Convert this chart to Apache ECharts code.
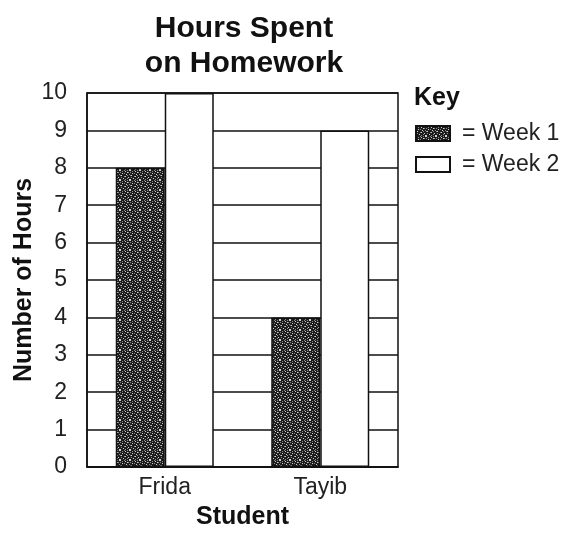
<!DOCTYPE html>
<html><head><meta charset="utf-8">
<script src="https://cdn.jsdelivr.net/npm/echarts@6/dist/echarts.min.js"></script>
<style>html,body{margin:0;padding:0;background:#fff}#c{width:587px;height:538px}</style>
</head><body><div id="c"></div>
<script>
const students = ['Frida', 'Tayib'];
const week1 = [8, 4];
const week2 = [10, 9];
const seriesNames = ['Week 1', 'Week 2'];
const yTicks = [0,1,2,3,4,5,6,7,8,9,10];

// fixed speckle texture for the dark bars (0 = dark, 1 = mid grey, 2 = light)
const speckleRows = [
  '2000100102',
  '0010020000',
  '1000000210',
  '0020100000',
  '0000002001',
  '1200000100',
  '0000120000',
  '0100000020',
  '0002000100',
  '2000010002'
];
const speckleShades = ['#1c1c1c', '#8a8a8a', '#d0d0d0'];
const pc = document.createElement('canvas');
pc.width = 10; pc.height = 10;
const px = pc.getContext('2d');
speckleRows.forEach((row, y) => {
  for (let x = 0; x < row.length; x++) {
    px.fillStyle = speckleShades[+row[x]];
    px.fillRect(x, y, 1, 1);
  }
});

const chart = echarts.init(document.getElementById('c'));
const font = 'Liberation Sans, Arial, sans-serif';
chart.setOption({
  backgroundColor: '#fff',
  animation: false,
  title: {
    text: 'Hours Spent\non Homework',
    left: 239, top: 6, textAlign: 'center',
    textStyle: {fontFamily: font, fontSize: 30, fontWeight: 'bold', color: '#111', lineHeight: 35}
  },
  graphic: [{
    type: 'text', left: 414, top: 86,
    style: {text: 'Key', font: 'bold 25px Liberation Sans, Arial, sans-serif', fill: '#111'}
  }],
  legend: {
    orient: 'vertical', left: 415, top: 122, itemGap: 8, padding: 0,
    itemWidth: 34, itemHeight: 15, icon: 'rect',
    formatter: n => '= ' + n,
    textStyle: {fontFamily: font, fontSize: 23, lineHeight: 23, color: '#222', padding: [0, 0, 0, 7]},
    data: seriesNames
  },
  grid: {left: 87, right: 189, top: 93, bottom: 71, show: true, borderColor: '#111', borderWidth: 1.5},
  xAxis: {
    type: 'category', data: students,
    name: 'Student', nameLocation: 'middle', nameGap: 38, nameMoveOverlap: false,
    nameTextStyle: {fontFamily: font, fontSize: 25, fontWeight: 'bold', color: '#111'},
    axisLine: {lineStyle: {color: '#111', width: 1.5}},
    axisTick: {show: false},
    axisLabel: {fontFamily: font, fontSize: 23, color: '#222', margin: 20 - 11}
  },
  yAxis: {
    type: 'value', min: 0, max: 10, interval: 1,
    name: 'Number of Hours', nameLocation: 'middle', nameGap: 50, nameMoveOverlap: false,
    nameTextStyle: {fontFamily: font, fontSize: 25, fontWeight: 'bold', color: '#111'},
    axisLine: {show: true, lineStyle: {color: '#111', width: 1.5}},
    axisTick: {show: false},
    axisLabel: {fontFamily: font, fontSize: 23, color: '#222', margin: 20,
      formatter: v => yTicks.includes(v) ? String(v) : ''},
    splitLine: {show: true, lineStyle: {color: '#111', width: 1.5}}
  },
  series: [
    {name: seriesNames[0], type: 'bar', data: week1, barWidth: 49, barGap: '0%',
     itemStyle: {color: {image: pc, repeat: 'repeat'}, borderColor: '#111', borderWidth: 1.5}},
    {name: seriesNames[1], type: 'bar', data: week2, barWidth: 49,
     itemStyle: {color: '#fff', borderColor: '#111', borderWidth: 1.5}}
  ]
});
</script></body></html>
